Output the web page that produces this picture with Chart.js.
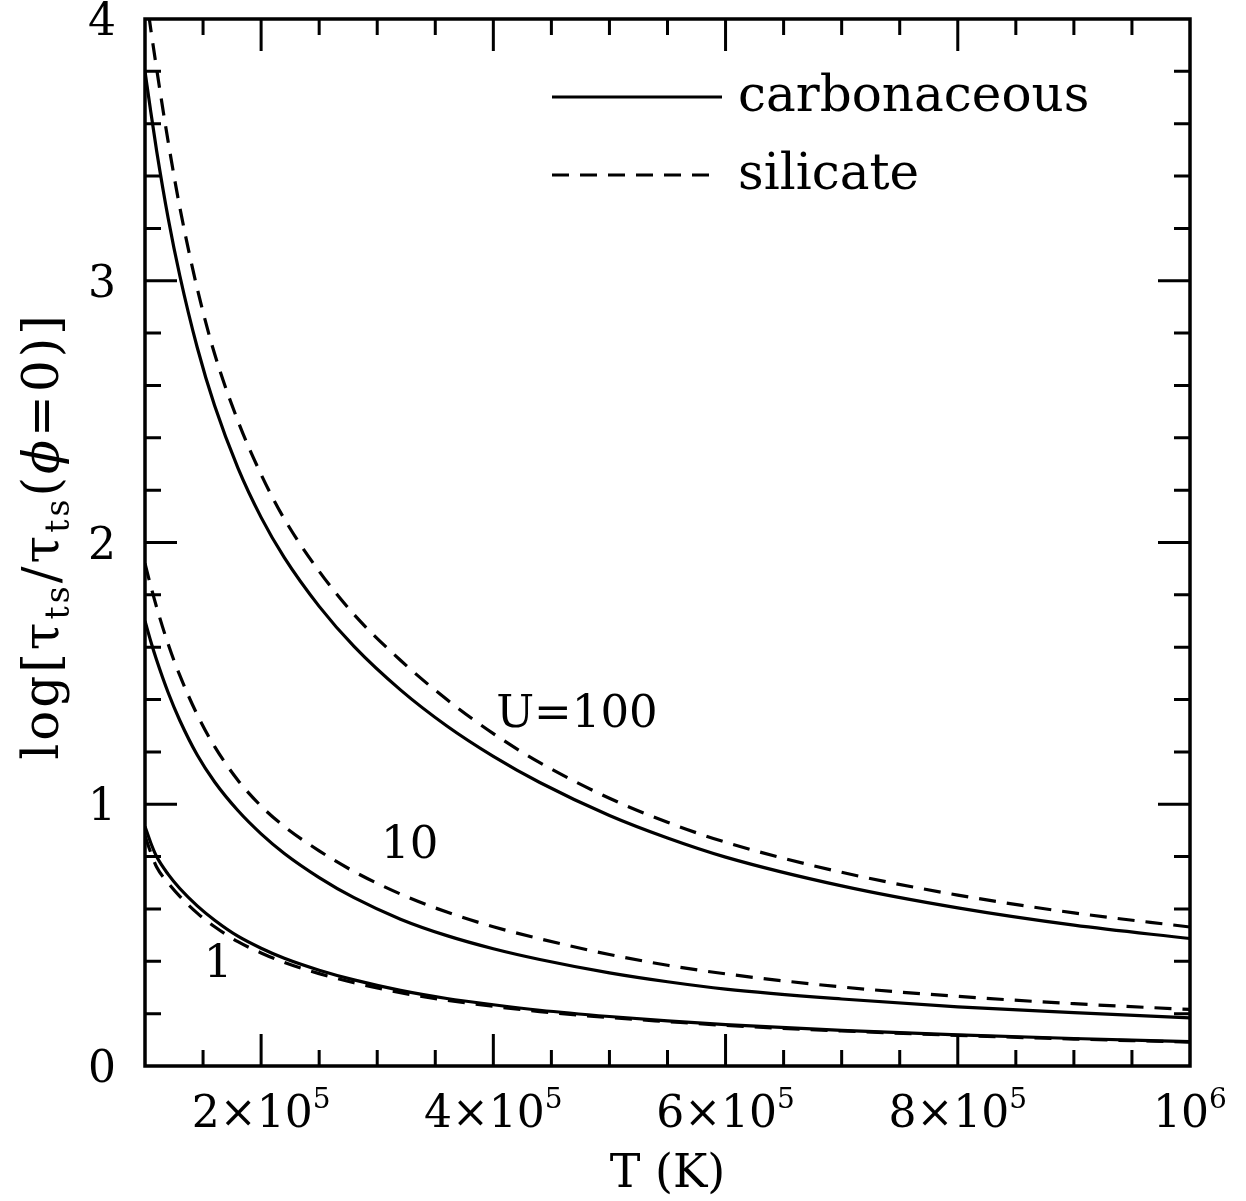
<!DOCTYPE html>
<html><head><meta charset="utf-8">
<script src="https://cdn.jsdelivr.net/npm/chart.js@4.4.1/dist/chart.umd.min.js"></script>
<style>html,body{margin:0;padding:0;background:#fff;}canvas{display:block;}</style>
</head><body>
<canvas id="c" width="1246" height="1201"></canvas>
<script>
// ---- data ----
const T = [1.0e5,1.05e5,1.1e5,1.2e5,1.3e5,1.45e5,1.6e5,1.8e5,2.0e5,2.2e5,2.5e5,2.8e5,3.2e5,3.6e5,4.0e5,4.4e5,5.0e5,5.5e5,6.0e5,7.0e5,8.0e5,9.0e5,1.0e6];
const carbU100 = [3.80,3.645,3.497,3.238,3.019,2.745,2.522,2.285,2.096,1.942,1.756,1.603,1.437,1.299,1.183,1.083,0.957,0.871,0.798,0.688,0.604,0.538,0.487];
const silU100  = [4.12,3.96,3.81,3.53,3.28,2.97,2.72,2.465,2.26,2.09,1.89,1.725,1.55,1.40,1.27,1.159,1.023,0.931,0.855,0.74,0.653,0.585,0.531];
const carbU10  = [1.70,1.622,1.551,1.426,1.32,1.188,1.085,0.976,0.887,0.812,0.72,0.643,0.561,0.498,0.448,0.407,0.356,0.322,0.294,0.256,0.226,0.204,0.184];
const silU10   = [1.92,1.833,1.753,1.611,1.492,1.342,1.22,1.092,0.993,0.915,0.822,0.743,0.657,0.588,0.532,0.486,0.426,0.385,0.352,0.302,0.266,0.238,0.216];
const carbU1   = [0.915,0.852,0.80,0.732,0.678,0.612,0.557,0.496,0.45,0.4115,0.366,0.329,0.289,0.258,0.234,0.213,0.189,0.1725,0.158,0.136,0.119,0.105,0.093];
const silU1    = [0.88,0.815,0.76,0.699,0.648,0.584,0.532,0.475,0.432,0.3955,0.353,0.318,0.28,0.251,0.228,0.208,0.185,0.1695,0.155,0.134,0.117,0.103,0.091];

const xMajorTicks = [2e5,4e5,6e5,8e5,1e6];
const xTickLabels = [["2×10","5"],["4×10","5"],["6×10","5"],["8×10","5"],["10","6"]];
const yMajorTicks = [0,1,2,3,4];
const yTickLabels = ["0","1","2","3","4"];
const xMinorStep = 5e4, yMinorStep = 0.2;
const legendLabels = ["carbonaceous","silicate"];
const curveLabels = [{text:"U=100", x:4.72e5, y:1.294},{text:"10", x:3.28e5, y:0.794},{text:"1", x:1.63e5, y:0.34}];
const xTitle = "T (K)";

const FONT = '"DejaVu Serif", serif';
const pts = arr => arr.map((v,i)=>({x:T[i], y:v}));
const DASH = [17,11];

function ds(arr, dashed){
  return {data:pts(arr), borderColor:'#000', borderWidth:3.2, pointRadius:0,
    borderDash: dashed?DASH:[], cubicInterpolationMode:'monotone', fill:false, clip:0};
}

function drawRich(ctx, parts, x, y, align){
  let w=0;
  parts.forEach(p=>{ctx.font=(p.style||'')+' '+p.s+'px '+FONT; p.w=ctx.measureText(p.t).width; w+=p.w;});
  let cx = align==='center'? x-w/2 : (align==='right'? x-w : x);
  ctx.textAlign='left';
  parts.forEach(p=>{ctx.font=(p.style||'')+' '+p.s+'px '+FONT; ctx.fillText(p.t, cx, y+(p.dy||0)); cx+=p.w;});
}

const framePlugin = {
  id:'frame',
  afterDatasetsDraw(chart){
    const {ctx, chartArea:a, scales:{x, y}} = chart;
    ctx.save();
    ctx.strokeStyle='#000'; ctx.fillStyle='#000';
    ctx.lineWidth=3;
    ctx.beginPath();
    for(let v=1e5+xMinorStep; v<1e6-1; v+=xMinorStep){
      const px=x.getPixelForValue(v);
      const major = xMajorTicks.some(t=>Math.abs(t-v)<1);
      const L = major?32:16;
      ctx.moveTo(px,a.bottom); ctx.lineTo(px,a.bottom-L);
      ctx.moveTo(px,a.top); ctx.lineTo(px,a.top+L);
    }
    for(let v=yMinorStep; v<4-1e-6; v+=yMinorStep){
      const py=y.getPixelForValue(v);
      const major = yMajorTicks.some(t=>Math.abs(t-v)<1e-6);
      const L = major?32:16;
      ctx.moveTo(a.left,py); ctx.lineTo(a.left+L,py);
      ctx.moveTo(a.right,py); ctx.lineTo(a.right-L,py);
    }
    ctx.stroke();
    ctx.lineWidth=3.5;
    ctx.strokeRect(a.left,a.top,a.right-a.left,a.bottom-a.top);
    ctx.font='44px '+FONT; ctx.textAlign='right'; ctx.textBaseline='alphabetic';
    yMajorTicks.forEach((v,i)=>{ctx.fillText(yTickLabels[i], 116, y.getPixelForValue(v)+16);});
    xMajorTicks.forEach((v,i)=>{
      const px=x.getPixelForValue(v);
      drawRich(ctx,[{t:xTickLabels[i][0],s:44},{t:xTickLabels[i][1],s:28,dy:-19}], px, 1127, 'center');
    });
    ctx.font='46px '+FONT; ctx.textAlign='center';
    ctx.fillText(xTitle, (a.left+a.right)/2, 1187);
    ctx.save();
    ctx.translate(58,536);
    ctx.rotate(-Math.PI/2);
    ctx.letterSpacing='3px';
    drawRich(ctx,[{t:'log[',s:50},{t:'τ',s:50},{t:'ts',s:33,dy:11},{t:'/',s:50},{t:'τ',s:50},{t:'ts',s:33,dy:11},{t:'(',s:50},{t:'ϕ',s:50,style:'italic'},{t:'=0)]',s:50}],0,0,'center');
    ctx.letterSpacing='0px';
    ctx.restore();
    ctx.lineWidth=3;
    ctx.beginPath(); ctx.setLineDash([]); ctx.moveTo(552,97); ctx.lineTo(722,97); ctx.stroke();
    ctx.beginPath(); ctx.setLineDash(DASH); ctx.moveTo(552,175); ctx.lineTo(712,175); ctx.stroke();
    ctx.setLineDash([]);
    ctx.font='50px '+FONT; ctx.textAlign='left';
    ctx.fillText(legendLabels[0], 738, 111);
    ctx.fillText(legendLabels[1], 738, 189);
    ctx.font='45px '+FONT; ctx.textAlign='center';
    curveLabels.forEach(l=>ctx.fillText(l.text, x.getPixelForValue(l.x), y.getPixelForValue(l.y)));
    ctx.restore();
  }
};

new Chart(document.getElementById('c'),{
  type:'line',
  data:{datasets:[ds(carbU100,false),ds(silU100,true),ds(carbU10,false),ds(silU10,true),ds(carbU1,false),ds(silU1,true)]},
  options:{
    responsive:false, animation:false, devicePixelRatio:1,
    layout:{padding:{left:145,right:56,top:19,bottom:135}},
    plugins:{legend:{display:false},tooltip:{enabled:false}},
    scales:{
      x:{type:'linear',min:1e5,max:1e6,display:false},
      y:{type:'linear',min:0,max:4,display:false}
    }
  },
  plugins:[framePlugin]
});
</script>
</body></html>
